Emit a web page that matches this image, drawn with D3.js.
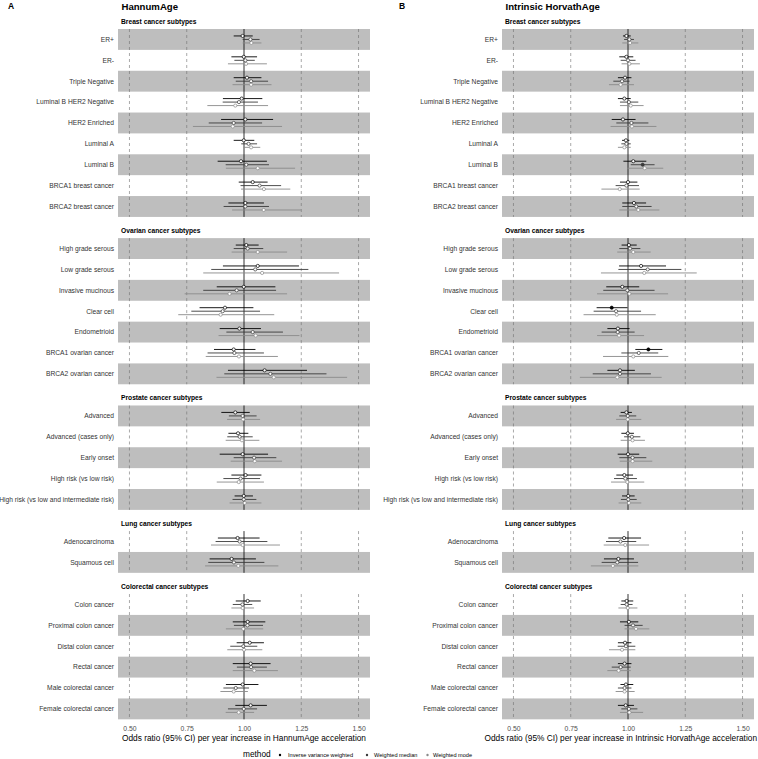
<!DOCTYPE html>
<html><head><meta charset="utf-8">
<script src="https://cdn.jsdelivr.net/npm/d3@7"></script>
<style>
html,body{margin:0;padding:0;background:#fff;}
svg{display:block;font-family:"Liberation Sans",Arial,sans-serif;}
</style></head>
<body><svg id="chart" width="758" height="759"></svg>
<script>
// ---------------- DATA ----------------
const groups = ["Breast cancer subtypes","Ovarian cancer subtypes","Prostate cancer subtypes","Lung cancer subtypes","Colorectal cancer subtypes"];
const breastSubtypes = ["ER+","ER-","Triple Negative","Luminal B HER2 Negative","HER2 Enriched","Luminal A","Luminal B","BRCA1 breast cancer","BRCA2 breast cancer"];
const ovarianSubtypes = ["High grade serous","Low grade serous","Invasive mucinous","Clear cell","Endometrioid","BRCA1 ovarian cancer","BRCA2 ovarian cancer"];
const prostateSubtypes = ["Advanced","Advanced (cases only)","Early onset","High risk (vs low risk)","High risk (vs low and intermediate risk)"];
const lungSubtypes = ["Adenocarcinoma","Squamous cell"];
const colorectalSubtypes = ["Colon cancer","Proximal colon cancer","Distal colon cancer","Rectal cancer","Male colorectal cancer","Female colorectal cancer"];
const methods = ["Inverse variance weighted","Weighted median","Weighted mode"];
const panelLetters = ["A","B"];
const panelTitles = ["HannumAge","Intrinsic HorvathAge"];
const axisTitles = ["Odds ratio (95% CI) per year increase in HannumAge acceleration","Odds ratio (95% CI) per year increase in Intrinsic HorvathAge acceleration"];
const xTicks = [0.5,0.75,1.0,1.25,1.5];
const xTickLabels = ["0.50","0.75","1.00","1.25","1.50"];

// [OR, lower, upper] in row order (breast, ovarian, prostate, lung, colorectal)
const hannumIVW = [
[0.994,0.955,1.038],[0.999,0.945,1.057],[1.013,0.955,1.076],[0.990,0.908,1.080],[1.006,0.900,1.127],[0.999,0.955,1.045],[0.987,0.885,1.100],[1.038,0.977,1.103],[1.006,0.932,1.087],
[1.010,0.964,1.064],[1.060,0.908,1.240],[0.999,0.881,1.137],[0.917,0.806,1.041],[0.980,0.894,1.074],[0.955,0.869,1.050],[1.090,0.930,1.275],
[0.962,0.901,1.025],[0.974,0.932,1.019],[0.994,0.894,1.105],[1.007,0.945,1.076],[0.999,0.959,1.039],
[0.972,0.886,1.068],[0.946,0.850,1.052],
[1.016,0.964,1.073],[1.016,0.951,1.093],[1.025,0.968,1.087],[1.029,0.951,1.116],[0.994,0.921,1.063],[1.029,0.962,1.100]];
const hannumWMedian = [
[1.028,0.994,1.068],[1.006,0.958,1.047],[1.031,0.964,1.105],[0.978,0.907,1.061],[0.955,0.846,1.079],[1.020,0.988,1.057],[1.010,0.920,1.109],[1.068,0.985,1.162],[1.006,0.911,1.109],
[1.016,0.955,1.084],[1.049,0.857,1.281],[0.968,0.822,1.140],[0.907,0.770,1.070],[1.038,0.923,1.170],[0.958,0.841,1.087],[1.115,0.914,1.360],
[0.994,0.934,1.055],[0.981,0.927,1.038],[1.044,0.955,1.141],[0.985,0.910,1.070],[0.999,0.950,1.054],
[0.981,0.876,1.102],[0.956,0.844,1.089],
[0.993,0.951,1.036],[1.015,0.956,1.083],[0.997,0.940,1.058],[1.031,0.969,1.100],[0.964,0.910,1.022],[0.999,0.930,1.057]];
const hannumWMode = [
[1.032,0.994,1.076],[1.009,0.930,1.100],[1.031,0.950,1.120],[0.962,0.840,1.105],[0.951,0.777,1.166],[1.031,0.999,1.071],[1.060,0.921,1.223],[1.087,0.987,1.202],[1.086,0.948,1.249],
[1.060,0.946,1.188],[1.079,0.822,1.415],[0.937,0.741,1.188],[0.898,0.713,1.132],[1.051,0.889,1.242],[0.978,0.833,1.148],[1.130,0.880,1.450],
[0.996,0.926,1.070],[0.991,0.920,1.067],[1.047,0.942,1.166],[0.977,0.881,1.087],[1.003,0.937,1.076],
[0.994,0.856,1.157],[0.975,0.830,1.150],
[0.994,0.945,1.044],[0.997,0.921,1.084],[1.000,0.927,1.080],[1.045,0.951,1.148],[0.955,0.897,1.017],[0.977,0.920,1.044]];
const horvathIVW = [
[0.993,0.978,1.012],[0.993,0.962,1.023],[0.987,0.956,1.015],[0.984,0.956,1.012],[0.978,0.929,1.033],[0.991,0.974,1.006],[1.023,0.980,1.080],[1.000,0.965,1.041],[1.026,0.975,1.079],
[1.004,0.972,1.038],[1.057,0.961,1.166],[0.975,0.905,1.049],[0.929,0.863,0.998],[0.956,0.910,1.007],[1.089,1.032,1.150],[0.965,0.910,1.030],
[0.993,0.968,1.017],[0.999,0.971,1.026],[1.000,0.955,1.049],[0.984,0.949,1.022],[1.001,0.974,1.029],
[0.983,0.914,1.057],[0.958,0.895,1.026],
[0.994,0.971,1.023],[1.004,0.965,1.045],[0.987,0.956,1.015],[0.985,0.956,1.015],[0.991,0.967,1.023],[0.990,0.956,1.026]];
const horvathWMedian = [
[1.006,0.983,1.026],[1.000,0.968,1.033],[0.974,0.936,1.007],[1.004,0.965,1.045],[1.015,0.949,1.089],[0.993,0.971,1.012],[1.064,1.012,1.116],[0.993,0.946,1.048],[1.036,0.975,1.103],
[1.009,0.962,1.054],[1.086,0.958,1.233],[0.997,0.892,1.116],[0.948,0.850,1.057],[0.955,0.885,1.029],[1.047,0.971,1.132],[0.965,0.846,1.100],
[0.999,0.962,1.036],[1.017,0.983,1.054],[1.020,0.962,1.080],[0.988,0.939,1.039],[1.001,0.969,1.038],
[0.967,0.904,1.036],[0.953,0.885,1.044],
[0.994,0.968,1.020],[1.022,0.985,1.064],[0.991,0.955,1.032],[0.968,0.929,1.012],[0.985,0.956,1.015],[1.004,0.971,1.041]];
const horvathWMode = [
[1.009,0.975,1.045],[1.006,0.972,1.052],[0.968,0.917,1.026],[1.012,0.965,1.068],[1.017,0.924,1.124],[0.984,0.956,1.012],[1.073,0.997,1.154],[0.964,0.884,1.051],[1.045,0.962,1.137],
[1.023,0.953,1.099],[1.071,0.882,1.300],[1.006,0.865,1.175],[0.951,0.806,1.121],[0.961,0.865,1.070],[1.023,0.891,1.176],[0.953,0.790,1.147],
[0.999,0.948,1.058],[1.020,0.968,1.074],[1.020,0.964,1.106],[0.997,0.926,1.071],[1.004,0.959,1.058],
[0.988,0.894,1.092],[0.934,0.838,1.045],
[0.999,0.958,1.041],[1.035,0.985,1.093],[0.974,0.917,1.032],[0.959,0.910,1.012],[0.985,0.946,1.029],[1.006,0.965,1.066]];

// ---------------- LAYOUT ----------------
const subtypeLists = [breastSubtypes, ovarianSubtypes, prostateSubtypes, lungSubtypes, colorectalSubtypes];
const methodColors = ["#000000","#3a3a3a","#8a8a8a"];
const methodOffsets = [-3.5, 0, 3.5];
const rowH = 20.88, stripH = 21.2, topY = 29;
const svg = d3.select("#chart");

const facets = [];
let acc = 0;
subtypeLists.forEach((list, k) => {
  const start = topY + acc * rowH + k * stripH;
  const yb = d3.scaleBand().domain(list).range([start, start + list.length * rowH]).padding(0);
  facets.push({name: groups[k], list, start, end: start + list.length * rowH, y: yb, offset: acc});
  acc += list.length;
});
const bottomY = facets[facets.length - 1].end;

const panels = [
  {left: 118, right: 370, labelX: 114, letterX: 8, data: [hannumIVW, hannumWMedian, hannumWMode]},
  {left: 502, right: 754, labelX: 498, letterX: 399, data: [horvathIVW, horvathWMedian, horvathWMode]}
];

panels.forEach((p, pi) => {
  const x = d3.scaleLinear().domain([0.45, 1.55]).range([p.left, p.right]);
  const g = svg.append("g");

  g.append("text").attr("x", p.letterX).attr("y", 9).attr("font-size", 8.5).attr("font-weight", "bold").text(panelLetters[pi]);
  g.append("text").attr("x", p.left + 3.5).attr("y", 10).attr("font-size", 9.6).attr("font-weight", "bold").text(panelTitles[pi]);

  facets.forEach(f => {
    g.append("text").attr("x", p.left + 3).attr("y", f.start - 5.5)
      .attr("font-size", 6.7).attr("font-weight", "bold").attr("fill", "#000").text(f.name);
    f.list.forEach((s, i) => {
      if ((f.list.length - 1 - i) % 2 === 0) {
        g.append("rect").attr("x", p.left).attr("width", p.right - p.left)
          .attr("y", f.y(s)).attr("height", f.y.bandwidth()).attr("fill", "#bebebe");
      }
      g.append("text").attr("x", p.labelX).attr("y", f.y(s) + f.y.bandwidth() / 2)
        .attr("dy", "0.35em").attr("text-anchor", "end").attr("font-size", 6.7).attr("fill", "#333").text(s);
    });
    xTicks.forEach(t => {
      g.append("line").attr("x1", x(t)).attr("x2", x(t)).attr("y1", f.start).attr("y2", f.end)
        .attr("stroke", t === 1 ? "#000" : "#6e6e6e")
        .attr("stroke-width", t === 1 ? 0.8 : 0.6)
        .attr("stroke-dasharray", t === 1 ? null : "3,3");
    });
    for (let m = 2; m >= 0; m--) {
      const arr = p.data[m];
      f.list.forEach((s, i) => {
        const d = arr[f.offset + i];
        const cy = f.y(s) + f.y.bandwidth() / 2 + methodOffsets[m];
        g.append("line").attr("x1", x(d[1])).attr("x2", x(d[2])).attr("y1", cy).attr("y2", cy)
          .attr("stroke", methodColors[m]).attr("stroke-width", 0.9);
      });
    }
    for (let m = 2; m >= 0; m--) {
      const arr = p.data[m];
      f.list.forEach((s, i) => {
        const d = arr[f.offset + i];
        const cy = f.y(s) + f.y.bandwidth() / 2 + methodOffsets[m];
        const sig = d[1] > 1 || d[2] < 1;
        g.append("circle").attr("cx", x(d[0])).attr("cy", cy).attr("r", 1.6)
          .attr("fill", sig ? methodColors[m] : "#fff")
          .attr("stroke", methodColors[m]).attr("stroke-width", 0.7);
      });
    }
  });

  const ax = g.append("g").attr("transform", `translate(0,${bottomY})`)
    .call(d3.axisBottom(x).tickValues(xTicks).tickFormat((d, i) => xTickLabels[i]).tickSize(0).tickPadding(6.5));
  ax.select(".domain").remove();
  ax.selectAll("text").attr("font-size", 6.8).attr("fill", "#4d4d4d").attr("font-family", "Liberation Sans, Arial, sans-serif");

  const t = g.append("text").attr("x", (p.left + p.right) / 2).attr("y", 740.5).attr("text-anchor", "middle")
    .attr("font-size", 8.3).attr("fill", "#000").text(axisTitles[pi]);
  // keep the whole title inside the picture
  const w = t.node().getComputedTextLength();
  const cx = Math.min((p.left + p.right) / 2, 757 - w / 2);
  t.attr("x", cx);
});

const lg = svg.append("g");
lg.append("text").attr("x", 243).attr("y", 757.3).attr("font-size", 8.3).text("method");
const legendPos = [{dot: 280, tx: 288}, {dot: 367, tx: 374}, {dot: 427.5, tx: 433}];
methods.forEach((mname, i) => {
  lg.append("circle").attr("cx", legendPos[i].dot).attr("cy", 755).attr("r", 1.2).attr("fill", methodColors[i]);
  lg.append("text").attr("x", legendPos[i].tx).attr("y", 757).attr("font-size", 5.6).attr("fill", "#000").text(mname);
});
</script></body></html>
